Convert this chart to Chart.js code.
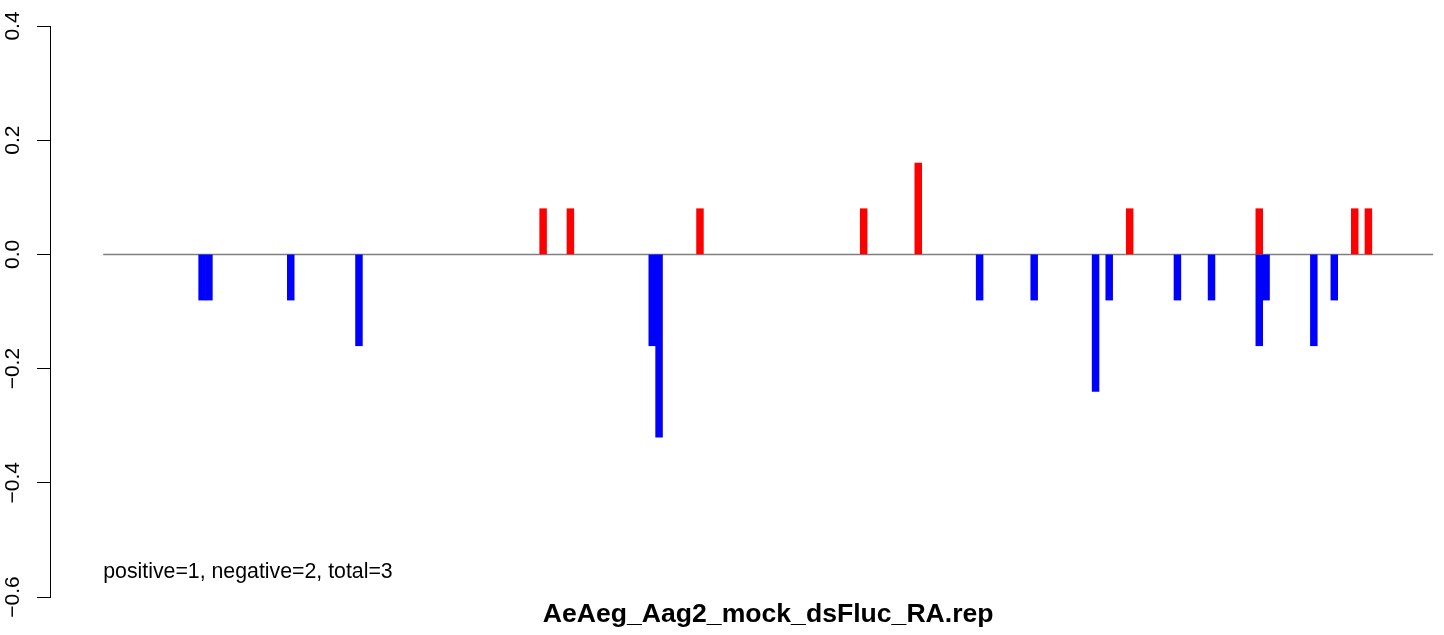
<!DOCTYPE html>
<html>
<head>
<meta charset="utf-8">
<title>AeAeg_Aag2_mock_dsFluc_RA.rep</title>
<script src="https://cdn.jsdelivr.net/npm/chart.js@4.4.0/dist/chart.umd.min.js"></script>
<style>
  html, body { margin: 0; padding: 0; background: #ffffff; }
  #wrap { width: 1444px; height: 635px; }
</style>
</head>
<body>
<div id="wrap"><canvas id="chart" width="1444" height="635"></canvas></div>
<script>
// data: read positions (nt) and normalised counts per strand
const positivePos = [64, 68, 87, 111, 119, 150, 169, 183, 185];
const positiveVal = [0.08, 0.08, 0.08, 0.08, 0.16, 0.08, 0.08, 0.08, 0.08];
const negativePos = [14, 15, 27, 37, 80, 81, 128, 136, 145, 147, 157, 162, 169, 170, 177, 180];
const negativeVal = [-0.08, -0.08, -0.08, -0.16, -0.16, -0.32, -0.08, -0.08, -0.24, -0.08, -0.08, -0.08, -0.16, -0.08, -0.16, -0.08];
const seqRange = [0, 195];
const yTicks = [-0.6, -0.4, -0.2, 0.0, 0.2, 0.4];
const countsText = 'positive=1, negative=2, total=3';
const titleText = 'AeAeg_Aag2_mock_dsFluc_RA.rep';

const FONT = '"Liberation Sans", Arial, Helvetica, sans-serif';

// bars sit on [pos, pos+1]
function toPoints(pos, val) {
    return pos.map((p, i) => ({ x: p + 0.5, y: val[i] }));
}

// R style minus sign on the tick labels
function fmtTick(v) {
    if (Math.abs(v) < 1e-9) return '0.0';
    const s = Math.abs(v).toFixed(1);
    return v < 0 ? '\u2212' + s : s;
}

// texts that R puts by hand (counts line + title under the plot)
const textPlugin = {
    id: 'rTexts',
    afterDraw(chart) {
        const { ctx } = chart;
        const x = chart.scales.x;
        const y = chart.scales.y;
        ctx.save();
        ctx.fillStyle = '#000000';
        ctx.font = '21.3px ' + FONT;
        ctx.textAlign = 'left';
        ctx.textBaseline = 'alphabetic';
        ctx.fillText(countsText, x.getPixelForValue(seqRange[0]), y.getPixelForValue(-0.567));
        ctx.font = 'bold 26.6px ' + FONT;
        ctx.textAlign = 'center';
        ctx.fillText(titleText, x.getPixelForValue((seqRange[0] + seqRange[1]) / 2), 622);
        ctx.restore();
    }
};

const chart = new Chart(document.getElementById('chart'), {
    type: 'bar',
    data: {
        datasets: [
            {
                type: 'line',
                label: 'baseline',
                data: seqRange.map(v => ({ x: v, y: 0 })),
                borderColor: '#7f7f7f',
                borderWidth: 1.5,
                pointRadius: 0,
                order: 3
            },
            {
                label: 'positive',
                data: toPoints(positivePos, positiveVal),
                backgroundColor: '#ff0000',
                borderWidth: 0,
                grouped: false,
                barPercentage: 1,
                categoryPercentage: 1,
                order: 1
            },
            {
                label: 'negative',
                data: toPoints(negativePos, negativeVal),
                backgroundColor: '#0000ff',
                borderWidth: 0,
                grouped: false,
                barPercentage: 1,
                categoryPercentage: 1,
                order: 1
            }
        ]
    },
    options: {
        responsive: false,
        animation: false,
        devicePixelRatio: 1,
        layout: { padding: { left: 0, right: 4, top: 26, bottom: 38 } },
        plugins: {
            legend: { display: false },
            tooltip: { enabled: false },
            title: { display: false }
        },
        scales: {
            x: {
                type: 'linear',
                min: -7.8,
                max: 196,
                offset: false,
                display: false
            },
            y: {
                type: 'linear',
                min: -0.6,
                max: 0.4,
                afterBuildTicks: s => { s.ticks = yTicks.map(v => ({ value: v })); },
                afterFit: s => { s.width = 50; },
                border: { display: true, color: '#000000', width: 1 },
                grid: {
                    drawOnChartArea: false,
                    drawTicks: true,
                    tickLength: 13,
                    color: '#000000',
                    tickWidth: 1
                },
                ticks: {
                    minRotation: 90,
                    maxRotation: 90,
                    crossAlign: 'center',
                    padding: 3,
                    color: '#000000',
                    font: { family: FONT, size: 21 },
                    callback: v => fmtTick(v)
                }
            }
        }
    },
    plugins: [textPlugin]
});
</script>
</body>
</html>
